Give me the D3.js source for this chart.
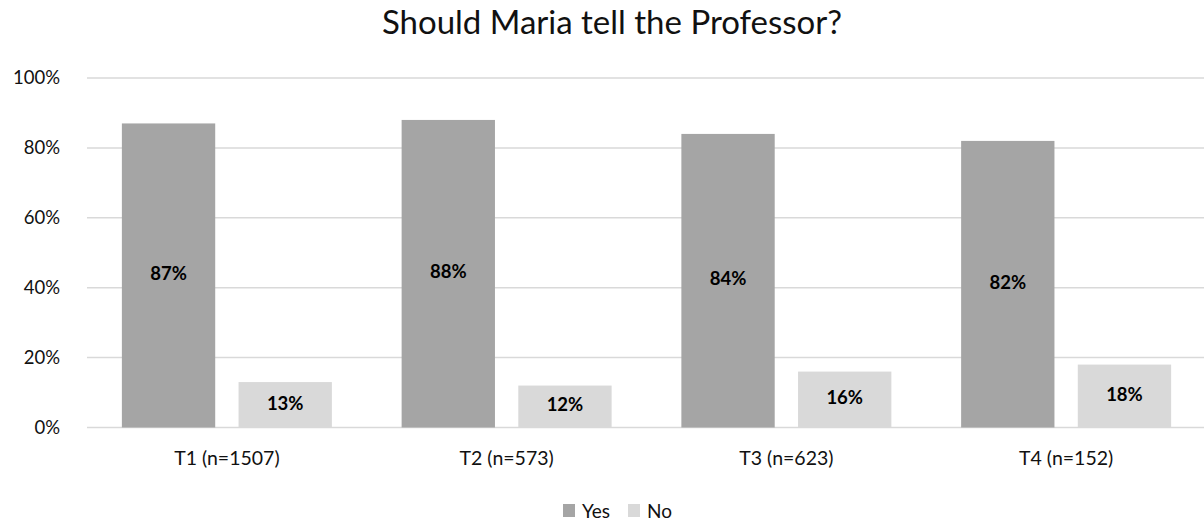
<!DOCTYPE html>
<html>
<head>
<meta charset="utf-8">
<script src="https://cdn.jsdelivr.net/npm/d3@7"></script>
<style>
  body { margin: 0; background: #fff; }
  text { font-family: Lato, "Open Sans", sans-serif; }
</style>
</head>
<body>
<div id="chart"></div>
<script>
// données
var categories = ["T1 (n=1507)", "T2 (n=573)", "T3 (n=623)", "T4 (n=152)"]
var keys = ["Yes", "No"]
var yesValues = [87, 88, 84, 82]
var noValues = [13, 12, 16, 18]
var yTicks = [0, 20, 40, 60, 80, 100]

var width = 1204
var height = 522
var margin = { left: 87, right: -2, top: 78, bottom: 94.5 }

var color = d3.scaleOrdinal()
  .domain(keys)
  .range(["#a5a5a5", "#d9d9d9"])

var data = categories.map(function(c, i) {
  return { cat: c, Yes: yesValues[i], No: noValues[i] }
})

var svg = d3.select("#chart")
  .append("svg")
    .attr("width", width)
    .attr("height", height)

var x0 = d3.scaleBand()
  .domain(categories)
  .range([margin.left, width - margin.right])

var groupW = 210
var x1 = d3.scaleBand()
  .domain(keys)
  .range([(x0.bandwidth() - groupW) / 2, (x0.bandwidth() + groupW) / 2])
  .paddingInner(0.2)

var y = d3.scaleLinear()
  .domain([0, 100])
  .range([height - margin.bottom, margin.top])

// titre
svg.append("text")
  .attr("x", 612)
  .attr("y", 34)
  .attr("text-anchor", "middle")
  .style("font-size", "33px")
  .style("fill", "#111")
  .text("Should Maria tell the Professor?")

// grille
svg.append("g")
  .selectAll("line")
  .data(yTicks)
  .enter()
  .append("line")
    .attr("x1", margin.left)
    .attr("x2", width)
    .attr("y1", function(d) { return y(d) })
    .attr("y2", function(d) { return y(d) })
    .attr("stroke", "#d9d9d9")
    .attr("stroke-width", 1.5)

// axe y
var yAxis = svg.append("g")
  .attr("transform", "translate(" + (margin.left - 24) + ",0)")
  .call(d3.axisLeft(y).tickValues(yTicks).tickSize(0).tickFormat(function(d) { return d + "%" }))
yAxis.select(".domain").remove()
yAxis.selectAll("text")
  .style("font-size", "18.5px")
  .style("fill", "#111")

// axe x
var xAxis = svg.append("g")
  .attr("transform", "translate(0," + y(0) + ")")
  .call(d3.axisBottom(x0).tickSize(0).tickPadding(24))
xAxis.select(".domain").remove()
xAxis.selectAll("text")
  .style("font-size", "19.5px")
  .style("fill", "#111")

// barres
var groups = svg.append("g")
  .selectAll("g")
  .data(data)
  .enter()
  .append("g")
    .attr("transform", function(d) { return "translate(" + x0(d.cat) + ",0)" })

groups.selectAll("rect")
  .data(function(d) { return keys.map(function(k) { return { key: k, value: d[k] } }) })
  .enter()
  .append("rect")
    .attr("x", function(d) { return x1(d.key) })
    .attr("y", function(d) { return y(d.value) })
    .attr("width", x1.bandwidth())
    .attr("height", function(d) { return y(0) - y(d.value) })
    .style("fill", function(d) { return color(d.key) })

groups.selectAll("text.lbl")
  .data(function(d) { return keys.map(function(k) { return { key: k, value: d[k] } }) })
  .enter()
  .append("text")
    .attr("class", "lbl")
    .attr("x", function(d) { return x1(d.key) + x1.bandwidth() / 2 })
    .attr("y", function(d) { return (y(d.value) + y(0)) / 2 })
    .attr("text-anchor", "middle")
    .attr("dominant-baseline", "middle")
    .style("font-size", "18.5px")
    .style("font-weight", "bold")
    .style("fill", "#000")
    .text(function(d) { return d.value + "%" })

// légende
var legend = svg.append("g")
var lx = [563, 628]
legend.selectAll("rect")
  .data(keys)
  .enter()
  .append("rect")
    .attr("x", function(d, i) { return lx[i] })
    .attr("y", 504)
    .attr("width", 12)
    .attr("height", 13)
    .style("fill", function(d) { return color(d) })
legend.selectAll("text")
  .data(keys)
  .enter()
  .append("text")
    .attr("x", function(d, i) { return lx[i] + 19 })
    .attr("y", 518)
    .style("font-size", "19px")
    .style("fill", "#111")
    .text(function(d) { return d })
</script>
</body>
</html>
